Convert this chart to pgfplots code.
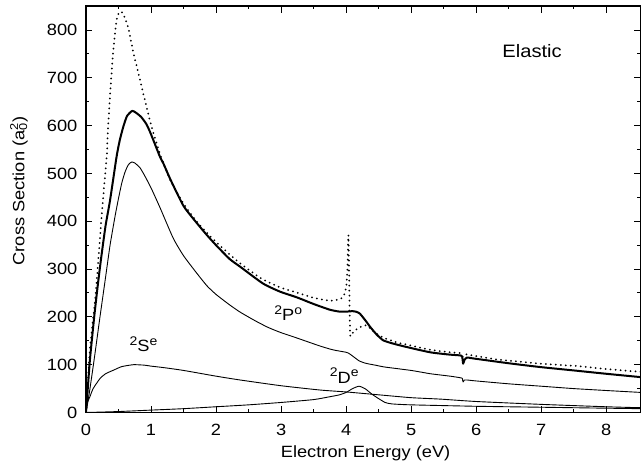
\documentclass[border=0pt]{standalone}
\usepackage{fontspec}
\setmainfont{Liberation Sans}[FakeStretch=1.12]
\usepackage{pgfplots}
\pgfplotsset{compat=1.18}
\newcommand\sy[1]{\raisebox{6.6pt}{\fontsize{12.5}{12}\selectfont #1}}
\pgfplotstableread{
x y
0 0
0.03 65
0.06 131
0.1 185
0.14 235
0.19 320
0.24 410
0.28 475
0.32 539
0.34 598
0.385 695
0.42 758
0.47 821
0.51 837
0.55 838
0.59 828
0.65 805
0.72 758
0.8 713
0.93 640
1.0 602
1.14 540
1.3 485
1.5 437
1.7 400
1.9 370
2.1 344
2.37 312
2.7 280
3.0 261
3.24 251
3.5 240
3.75 234
3.9 237
3.96 243
4.0 262
4.02 300
4.035 371
4.045 300
4.055 200
4.065 160
4.1 166
4.15 173
4.25 181
4.32 182
4.4 172
4.5 162
4.6 155
4.8 146
5.0 140
5.3 131
5.6 126
5.76 124
5.79 117
5.82 122
6.0 118
6.32 111
6.7 106
7.0 102
7.56 97
8.0 91
8.53 85
}\dotted
\pgfplotstableread{
x y
0 0
0.03 55
0.06 110
0.1 165
0.13 205
0.18 265
0.23 320
0.3 390
0.37 444
0.47 535
0.52 570
0.574 598
0.63 620
0.71 631
0.77 627
0.85 618
0.93 603
1.0 582
1.14 534
1.19 521
1.3 487
1.5 432
1.7 397
1.86 371
2.0 350
2.21 321
2.37 305
2.72 270
2.98 253
3.24 241
3.5 227
3.75 215
3.9 211
4.0 211
4.1 212
4.15 211
4.21 207
4.3 192
4.37 179
4.47 163
4.57 151
4.7 145
4.9 138
5.29 126
5.6 121
5.77 119
5.79 112
5.80 102
5.82 110
5.86 115
5.96 113
6.5 103
6.99 95
7.5 88
8.0 81
8.53 74
}\total
\pgfplotstableread{
x y
0 0
0.05 40
0.11 96
0.15 135
0.215 200
0.3 282
0.37 350
0.446 410
0.5 448
0.55 480
0.6 503
0.65 518
0.7 524
0.75 522
0.83 512
0.9 496
1.0 470
1.14 428
1.34 365
1.5 328
1.7 292
1.86 265
2.0 247
2.2 226
2.37 210
2.6 192
2.8 178
3.0 167
3.24 156
3.6 139
3.8 131
4.0 126
4.05 123
4.1 118
4.15 113
4.2 108
4.3 103
4.45 99
4.6 95
5.0 88
5.3 81
5.6 76
5.78 72
5.79 68
5.80 64
5.82 68
5.86 68
6.0 66
6.5 60
7.0 55
7.5 50
8.0 46
8.53 42
}\pwave
\pgfplotstableread{
x y
0 0
0.02 20
0.06 33
0.11 50
0.215 71
0.3 81
0.43 89
0.55 96
0.73 100
0.9 99
1.0 97
1.19 94
1.5 88
2.0 76
2.37 68
3.0 56
3.6 47
4.0 43
4.5 37
5.0 31
5.45 28
6.0 23
7.0 17
8.0 12
8.53 10
}\swave
\pgfplotstableread{
x y
0 0
0.5 2
1.0 5
1.5 8
2.0 12
2.5 16
3.0 21
3.5 27
3.75 33
3.9 37
4.0 42
4.1 50
4.2 55
4.3 49
4.4 38
4.5 29
4.6 21
4.7 18
5.0 16
6.0 13
7.0 11
8.0 9
8.53 8
}\dwave
\begin{document}
\fontsize{16.3}{19}\selectfont
\begin{tikzpicture}
\begin{axis}[
 scale only axis, width=554.7pt, height=406.3pt,
 xmin=0, xmax=8.53, ymin=0, ymax=850,
 xtick={0,...,8}, ytick={0,100,...,800},
 xticklabels={0,1,2,3,4,5,6,7,8},
 yticklabels={0,100,200,300,400,500,600,700,800},
 minor x tick num=1, minor y tick num=1,
 tick align=inside, tick pos=both,
 major tick length=6.5pt, minor tick length=3.3pt,
 axis line style={line width=1.4pt},
 every tick/.style={line width=1pt, black},
 ticklabel style={font=\fontsize{16.3}{19}\selectfont},
 xticklabel style={yshift=-6pt},
 yticklabel style={xshift=-3pt},
 xlabel={Electron Energy (eV)},
 ylabel={Cross Section (a\rlap{\textsubscript{0}}\textsuperscript{2})},
 xlabel style={at={(axis description cs:0.504,-0.111)}, anchor=base},
 ylabel style={at={(axis description cs:-0.111,0.545)}, anchor=base},
 clip=true,
 every axis plot/.append style={smooth, tension=0.35},
]
\addplot[black, line width=2pt, dash pattern=on 0pt off 5pt, line cap=round] table[x=x,y=y] {\dotted};
\addplot[black, line width=2pt, line join=round] table[x=x,y=y] {\total};
\addplot[black, line width=0.9pt, line join=round] table[x=x,y=y] {\pwave};
\addplot[black, line width=0.9pt, line join=round] table[x=x,y=y] {\swave};
\addplot[black, line width=0.9pt, line join=round] table[x=x,y=y] {\dwave};
\node[anchor=base, font=\fontsize{18}{20}\selectfont] at (axis cs:6.86,742) {Elastic};
\node[anchor=base] at (axis cs:3.11,192) {\sy{2}P\sy{o}};
\node[anchor=base] at (axis cs:0.885,127) {\sy{2}S\sy{e}};
\node[anchor=base] at (axis cs:3.97,61) {\sy{2}D\sy{e}};
\end{axis}
\pgfresetboundingbox
\path[use as bounding box] (current axis.south west) ++(-86pt,-57.5pt) rectangle ++(642pt,470pt);
\end{tikzpicture}
\end{document}
